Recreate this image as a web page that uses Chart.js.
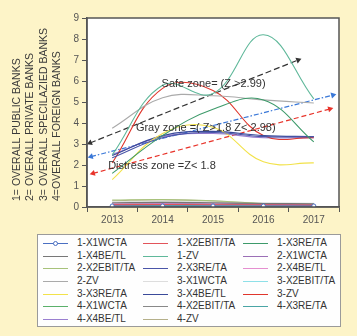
<!DOCTYPE html>
<html>
<head>
<meta charset="utf-8">
<script src="https://cdn.jsdelivr.net/npm/chart.js@4"></script>
<style>
  html, body { margin: 0; padding: 0; background: #fdf4c8; }
  #wrap { position: relative; width: 357px; height: 336px; }
  #chart { position: absolute; left: 0; top: 0; }
  #legend {
    position: absolute; left: 37px; top: 234px; width: 304px; height: 93px;
    box-sizing: border-box; border: 1px solid #9a9a9a; background: #fefefe;
    font: 10px "Liberation Sans", Arial, sans-serif; color: #333;
  }
  .item { position: absolute; height: 12px; line-height: 12px; white-space: nowrap; }
  .swatch { position: absolute; left: 0; top: 6px; width: 25px; height: 0; border-top: 1px solid; }
  .dot { position: absolute; left: 10px; top: 3.5px; width: 3px; height: 3px; border: 1px solid; border-radius: 50%; background: #fff; }
  .label { position: absolute; left: 34px; top: 0; }
</style>
</head>
<body>
<div id="wrap">
  <canvas id="chart" width="357" height="336"></canvas>
  <div id="legend"></div>
</div>
<script>
// === Data ===
const years = ['2013', '2014', '2015', '2016', '2017'];

const x1wcta1 = [0.05, 0.05, 0.05, 0.05, 0.05];
const x2ebit1 = [0.10, 0.12, 0.11, 0.10, 0.09];
const x3re1   = [1.60, 3.40, 4.65, 5.10, 3.10];
const x4be1   = [0.20, 0.22, 0.20, 0.17, 0.15];
const zv1     = [2.48, 5.80, 5.40, 8.20, 5.15];
const x1wcta2 = [0.12, 0.14, 0.13, 0.12, 0.10];
const x2ebit2 = [0.33, 0.36, 0.30, 0.17, 0.13];
const x3re2   = [2.35, 3.30, 3.55, 3.35, 3.35];
const x4be2   = [0.15, 0.16, 0.15, 0.14, 0.12];
const zv2     = [3.75, 5.20, 5.30, 5.10, 4.95];
const x1wcta3 = [0.25, 0.27, 0.24, 0.20, 0.18];
const x2ebit3 = [0.10, 0.11, 0.10, 0.09, 0.08];
const x3re3   = [1.30, 3.50, 3.80, 2.15, 2.10];
const x4be3   = [2.45, 3.40, 3.60, 3.40, 3.35];
const zv3     = [2.10, 5.65, 5.55, 3.40, 3.30];
const x1wcta4 = [0.08, 0.09, 0.08, 0.07, 0.07];
const x2ebit4 = [0.18, 0.20, 0.18, 0.15, 0.13];
const x3re4   = [0.07, 0.08, 0.07, 0.06, 0.06];
const x4be4   = [2.50, 3.35, 3.50, 3.30, 3.30];
const zv4     = [0.30, 0.34, 0.28, 0.15, 0.12];

const seriesNames = [
  '1-X1WCTA', '1-X2EBIT/TA', '1-X3RE/TA', '1-X4BE/TL', '1-ZV',
  '2-X1WCTA', '2-X2EBIT/TA', '2-X3RE/TA', '2-X4BE/TL', '2-ZV',
  '3-X1WCTA', '3-X2EBIT/TA', '3-X3RE/TA', '3-X4BE/TL', '3-ZV',
  '4-X1WCTA', '4-X2EBIT/TA', '4-X3RE/TA', '4-X4BE/TL', '4-ZV'
];
const seriesValues = [
  x1wcta1, x2ebit1, x3re1, x4be1, zv1,
  x1wcta2, x2ebit2, x3re2, x4be2, zv2,
  x1wcta3, x2ebit3, x3re3, x4be3, zv3,
  x1wcta4, x2ebit4, x3re4, x4be4, zv4
];

// zone arrows (start, end) in year / Z units
const safeArrow = [{ x: 2012.56, y: 3.05 }, { x: 2016.69, y: 7.0 }];
const grayArrow = [{ x: 2012.58, y: 2.4 }, { x: 2017.38, y: 5.33 }];
const distressArrow = [{ x: 2012.62, y: 1.6 }, { x: 2017.32, y: 4.67 }];

const zoneLabels = ['Safe zone= (Z >2.99)', 'Gray zone =( Z>1.8 Z< 2.98)', 'Distress zone =Z< 1.8'];
const zoneAt = [{ x: 2013.98, y: 5.85 }, { x: 2013.47, y: 3.75 }, { x: 2012.92, y: 1.95 }];

const sideLines = ['1= OVERALL PUBLIC BANKS', '2= OVERALL PRIVATE BANKS', '3= OVERALL SPECILAZIED BANKS', '4=OVERALL FOREIGN BANKS'];

// === Styles ===
const colors = [
  '#4a6fc2', '#e2545a', '#3d9a6a', '#777777', '#5fb89a',
  '#9b6fb6', '#a7c27a', '#4a55a8', '#e58fd0', '#aaaaaa',
  '#dddddd', '#8ee0e8', '#f2e24a', '#3a4a9a', '#e0362c',
  '#5ab06a', '#888888', '#4aa5a5', '#9a7fd0', '#b5b08a'
];
const FONT = '"Liberation Sans", Arial, sans-serif';

function arrowRotation(ctx) {
  const d = ctx.dataset.data;
  const xs = ctx.chart.scales.x2, ys = ctx.chart.scales.y;
  const dx = xs.getPixelForValue(d[1].x) - xs.getPixelForValue(d[0].x);
  const dy = ys.getPixelForValue(d[1].y) - ys.getPixelForValue(d[0].y);
  const ang = Math.atan2(dy, dx) * 180 / Math.PI + 90;
  return ctx.dataIndex === 0 ? ang + 180 : ang;
}

function arrowSet(data, color, dash) {
  return {
    xAxisID: 'x2', data, borderColor: color, backgroundColor: color,
    borderWidth: 1.2, borderDash: dash, tension: 0,
    pointStyle: 'triangle', pointRadius: 3.5, pointBorderWidth: 0,
    pointRotation: arrowRotation
  };
}

const datasets = seriesValues.map((vals, i) => ({
  label: seriesNames[i],
  data: vals,
  borderColor: colors[i],
  backgroundColor: '#fff',
  borderWidth: 1.1,
  tension: 0.4,
  pointRadius: i === 0 ? 2 : 0,
  pointBorderWidth: 1,
  pointBorderColor: colors[i]
}));
datasets.push(arrowSet(safeArrow, '#333333', [6, 3]));
datasets.push(arrowSet(grayArrow, '#3a78d8', [5, 2, 1.5, 2]));
datasets.push(arrowSet(distressArrow, '#e8332a', [5, 3]));

// === Plugins ===
const frame = {
  id: 'frame',
  beforeDraw(chart) {
    const { ctx, chartArea: a } = chart;
    ctx.save();
    ctx.fillStyle = '#ffffff';
    ctx.fillRect(a.left, a.top, a.right - a.left, a.bottom - a.top);
    ctx.restore();
  },
  afterDraw(chart) {
    const { ctx, chartArea: a, scales } = chart;
    ctx.save();
    ctx.strokeStyle = '#555';
    ctx.lineWidth = 1.5;
    ctx.strokeRect(a.left, a.top, a.right - a.left, a.bottom - a.top);

    // zone labels
    ctx.font = '11px ' + FONT;
    ctx.fillStyle = '#333';
    ctx.textBaseline = 'middle';
    ctx.textAlign = 'left';
    zoneLabels.forEach((t, i) => {
      ctx.fillText(t, scales.x2.getPixelForValue(zoneAt[i].x), scales.y.getPixelForValue(zoneAt[i].y));
    });

    // rotated side text
    ctx.font = '10.5px ' + FONT;
    const xs = [17, 30, 44, 57];
    sideLines.forEach((t, i) => {
      ctx.save();
      ctx.translate(xs[i], 201);
      ctx.rotate(-Math.PI / 2);
      ctx.fillStyle = '#3a3a3a';
      ctx.fillText(t, 0, 0);
      ctx.restore();
    });
    ctx.restore();
  }
};

new Chart(document.getElementById('chart'), {
  type: 'line',
  data: { labels: years, datasets },
  options: {
    responsive: false,
    animation: false,
    layout: { padding: { top: 18, right: 18, left: 0, bottom: 0 } },
    plugins: { legend: { display: false }, tooltip: { enabled: false } },
    scales: {
      x: {
        offset: true,
        grid: { offset: true, drawOnChartArea: false, tickLength: 5, color: '#555' },
        border: { color: '#555', width: 1.5 },
        ticks: { color: '#555', font: { family: FONT, size: 10 }, padding: 2, maxRotation: 0 },
        afterFit(s) { s.height = 129; }
      },
      x2: { type: 'linear', display: false, min: 2012.5, max: 2017.5 },
      y: {
        min: 0, max: 9,
        grid: { drawOnChartArea: false, tickLength: 5, color: '#555' },
        border: { color: '#555', width: 1.5 },
        ticks: { stepSize: 1, color: '#555', font: { family: FONT, size: 10 }, padding: 3 },
        afterFit(s) { s.width = 87; }
      }
    }
  },
  plugins: [frame]
});

// === HTML legend ===
const legend = document.getElementById('legend');
seriesNames.forEach((name, i) => {
  const col = i % 3, row = Math.floor(i / 3);
  const item = document.createElement('div');
  item.className = 'item';
  item.style.left = (5 + col * 100) + 'px';
  item.style.top = (2 + row * 12.67) + 'px';
  item.innerHTML = '<span class="swatch" style="border-color:' + colors[i] + '"></span>' +
    (i === 0 ? '<span class="dot" style="border-color:' + colors[i] + '"></span>' : '') +
    '<span class="label">' + name + '</span>';
  legend.appendChild(item);
});
</script>
</body>
</html>
